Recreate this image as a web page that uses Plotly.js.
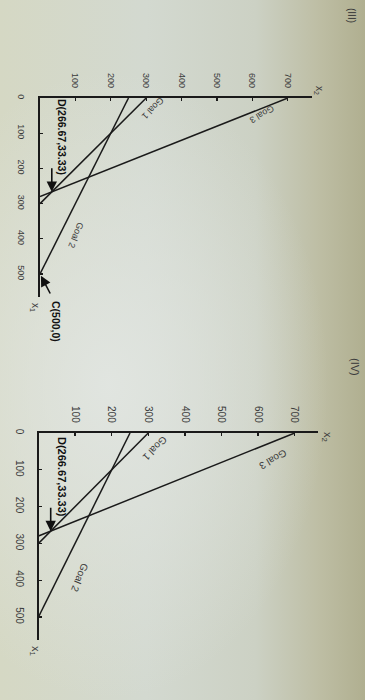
<!DOCTYPE html>
<html><head><meta charset="utf-8">
<script src="https://cdn.plot.ly/plotly-3.0.1.min.js"></script>
<style>
html,body{margin:0;padding:0;width:365px;height:700px;overflow:hidden;}
body{background:
  radial-gradient(ellipse 60% 45% at 30% 55%, rgba(226,230,226,0.9) 0%, rgba(226,230,226,0) 100%),
  linear-gradient(to right, #d5d8c4 0%, #d3d9d0 40%, #ccd1c4 70%, #bdbda3 88%, #b0af90 100%);}
#chart{width:365px;height:700px;}
</style></head><body><div id="chart"></div>
<script>
// ---- data ----
const panelLabels = ['(III)', '(IV)'];
const goalNames = ['Goal 1', 'Goal 2', 'Goal 3'];
const goalX1Intercepts = [300, 500, 280];
const goalX2Intercepts = [300, 250, 700];
const x1TickVals = [0, 100, 200, 300, 400, 500];
const x2TickVals = [100, 200, 300, 400, 500, 600, 700];
const pointD = [266.67, 33.33];   // [x1, x2]
const pointC = [500, 0];          // [x1, x2]

// ---- layout helpers (pixel -> paper) ----
const W = 365, H = 700;
const PX = x => x / W, PY = y => 1 - y / H;
const FONT = 'Liberation Sans, Arial, sans-serif';
const INK = '#1a1a1a', TXT = '#3b3b3b';

const panels = [
  {ox: 40, oy: 98, xEnd: 312, yEnd: 297, sx: 0.354, sy: 0.352, tick: 9, dfont: 10.5,
   title: [352, 15], x2lab: [319, 90], x1lab: [35, 307],
   goals: [[153, 108, 135], [76, 235, 112], [262, 114, 150]],
   dText: [62, 137], showC: true, cText: [56, 321]},
  {ox: 38.5, oy: 433, xEnd: 318, yEnd: 640, sx: 0.366, sy: 0.368, tick: 10, dfont: 11,
   title: [355, 367], x2lab: [327, 437], x1lab: [35, 651],
   goals: [[155, 449, 135], [80, 578, 112], [273, 460, 150]],
   dText: [62, 477], showC: false}
];

const traces = [];
const layout = {
  width: W, height: H, margin: {l: 0, r: 0, t: 0, b: 0},
  paper_bgcolor: 'rgba(0,0,0,0)', plot_bgcolor: 'rgba(0,0,0,0)',
  showlegend: false, font: {family: FONT, color: TXT},
  annotations: []
};

panels.forEach((p, i) => {
  const n = i === 0 ? '' : '2';
  const xa = 'x' + n, ya = 'y' + n;
  goalNames.forEach((g, k) => {
    traces.push({
      type: 'scatter', mode: 'lines', xaxis: xa, yaxis: ya, name: g,
      x: [goalX2Intercepts[k], 0], y: [0, goalX1Intercepts[k]],
      line: {color: INK, width: 1.5}, hoverinfo: 'skip'
    });
  });
  const axCommon = {
    showgrid: false, zeroline: false, showline: true, linecolor: INK, linewidth: 1.8,
    ticks: 'inside', ticklen: 3, tickwidth: 1.3, tickcolor: INK,
    tickangle: 90, tickfont: {size: p.tick, color: TXT, family: FONT},
    tickmode: 'array', fixedrange: true
  };
  layout['xaxis' + n] = Object.assign({}, axCommon, {
    domain: [PX(p.ox), PX(p.xEnd)], range: [0, (p.xEnd - p.ox) / p.sx],
    anchor: ya, side: 'top', tickvals: x2TickVals, ticktext: x2TickVals.map(String),
    ticklabelstandoff: 5
  });
  layout['yaxis' + n] = Object.assign({}, axCommon, {
    domain: [PY(p.yEnd), PY(p.oy)], range: [(p.yEnd - p.oy) / p.sy, 0],
    anchor: xa, side: 'left', tickvals: x1TickVals, ticktext: x1TickVals.map(String),
    ticklabelstandoff: 9
  });
  const A = layout.annotations;
  const txt = (pos, text, size, angle, bold) => A.push({
    xref: 'paper', yref: 'paper', x: PX(pos[0]), y: PY(pos[1]),
    xanchor: 'center', yanchor: 'middle', showarrow: false, textangle: angle,
    text: bold ? '<b>' + text + '</b>' : text,
    font: {size: size, color: bold ? '#111' : TXT, family: FONT}
  });
  txt(p.title, panelLabels[i], p.tick + 1, 90, false);
  txt(p.x2lab, 'x<sub>2</sub>', p.tick + 1, 90, false);
  txt(p.x1lab, 'x<sub>1</sub>', p.tick + 1, 90, false);
  p.goals.forEach((gp, k) => txt([gp[0], gp[1]], goalNames[k], p.tick, gp[2], false));
  txt(p.dText, 'D(' + pointD[0].toFixed(2) + ',' + pointD[1].toFixed(2) + ')', p.dfont, 90, true);
  A.push({xref: xa, yref: ya, x: pointD[1], y: pointD[0], text: '',
    showarrow: true, arrowhead: 2, arrowsize: 1.3, arrowwidth: 1.6, arrowcolor: '#111',
    ax: 0, ay: -25, standoff: 0});
  if (p.showC) {
    txt(p.cText, 'C(' + pointC[0] + ',' + pointC[1] + ')', p.dfont, 90, true);
    A.push({xref: xa, yref: ya, x: pointC[1], y: pointC[0], text: '',
      showarrow: true, arrowhead: 2, arrowsize: 1.3, arrowwidth: 1.6, arrowcolor: '#111',
      ax: 11, ay: 21, standoff: 2});
  }
});

Plotly.newPlot('chart', traces, layout, {staticPlot: true, displayModeBar: false});
</script></body></html>
